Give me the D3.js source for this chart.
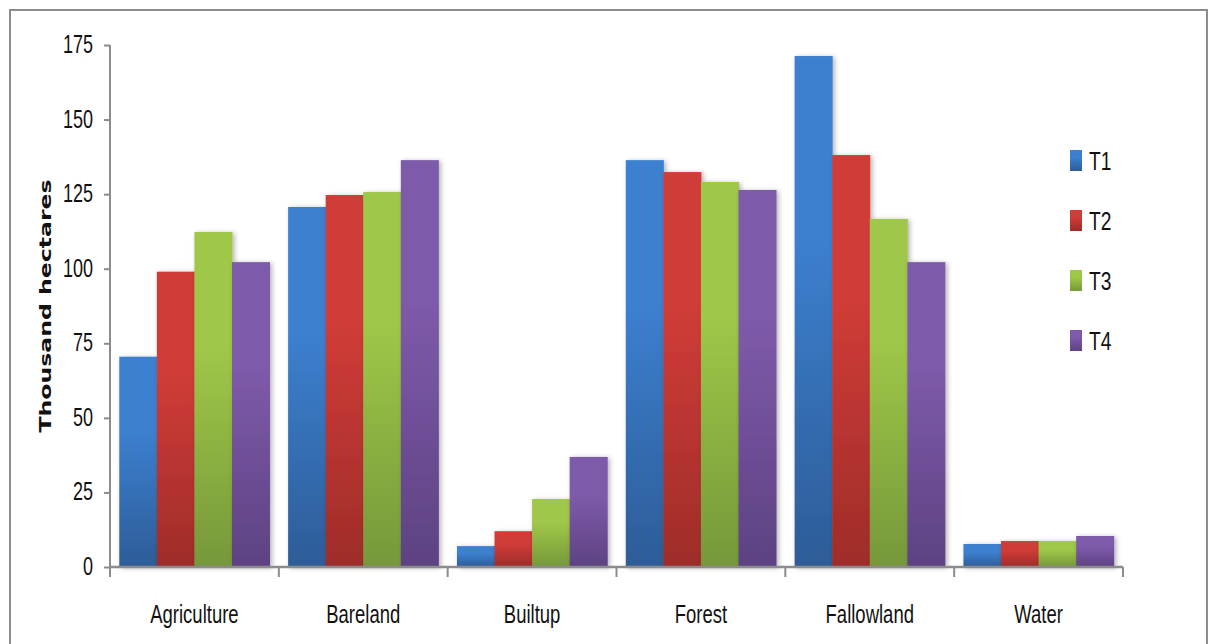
<!DOCTYPE html>
<html><head><meta charset="utf-8">
<script src="https://cdn.jsdelivr.net/npm/d3@7"></script>
<style>body{margin:0;background:#fff}svg{display:block}</style>
</head><body>
<svg id="c" width="1214" height="644"></svg>
<script>
const categories = ["Agriculture","Bareland","Builtup","Forest","Fallowland","Water"];
const series = ["T1","T2","T3","T4"];
const T1 = [70.5, 120.7, 7.0, 136.4, 171.3, 7.7];
const T2 = [99.0, 124.7, 12.0, 132.4, 138.1, 8.7];
const T3 = [112.3, 125.7, 22.8, 129.1, 116.7, 8.7];
const T4 = [102.2, 136.4, 36.9, 126.4, 102.2, 10.4];
const yTicks = [0,25,50,75,100,125,150,175];
const yLabel = "Thousand hectares";
const values = [T1,T2,T3,T4];
const colorsTop = ["#3c80d0","#d03c37","#9fc748","#7e5aaa"];
const colorsBot = ["#2d5c97","#9e2c29","#76983a","#5d4282"];

const svg = d3.select("#c");
const defs = svg.append("defs");
series.forEach((s,i)=>{
  const g = defs.append("linearGradient").attr("id","g"+i).attr("x1",0).attr("y1",0).attr("x2",0).attr("y2",1);
  g.append("stop").attr("offset","0%").attr("stop-color",colorsTop[i]);
  g.append("stop").attr("offset","35%").attr("stop-color",colorsTop[i]);
  g.append("stop").attr("offset","100%").attr("stop-color",colorsBot[i]);
});
const f = defs.append("filter").attr("id","sh").attr("x","-20%").attr("y","-20%").attr("width","150%").attr("height","150%");
f.append("feDropShadow").attr("dx",2).attr("dy",1).attr("stdDeviation",2.5).attr("flood-color","#000").attr("flood-opacity",0.3);

// frame
svg.append("rect").attr("x",10).attr("y",10).attr("width",1197).attr("height",650)
  .attr("fill","none").attr("stroke","#8c8c8c").attr("stroke-width",2);

const x0 = d3.scaleBand().domain(categories).range([110,1123]).paddingInner(0.11).paddingOuter(0.055);
const x1 = d3.scaleBand().domain(series).range([0,x0.bandwidth()]);
const y = d3.scaleLinear().domain([0,175]).range([567,45]);

// bars
const groups = svg.append("g").selectAll("g").data(categories).join("g")
  .attr("transform",d=>`translate(${x0(d)},0)`);
groups.selectAll("rect").data((d,ci)=>series.map((s,si)=>({s,si,v:values[si][ci]})))
  .join("rect")
  .attr("x",d=>x1(d.s)).attr("width",x1.bandwidth()+0.5)
  .attr("y",d=>y(d.v)).attr("height",d=>y(0)-y(d.v))
  .attr("fill",d=>`url(#g${d.si})`).attr("filter","url(#sh)");

const axisColor = "#8c8c8c";
// y axis
const yAxis = svg.append("g").attr("transform","translate(110,0)")
  .call(d3.axisLeft(y).tickValues(yTicks).tickSize(6).tickSizeOuter(0).tickFormat(""));
yAxis.select(".domain").attr("stroke",axisColor).attr("stroke-width",2).attr("d","M0,45V577");
yAxis.selectAll(".tick line").attr("stroke",axisColor).attr("stroke-width",2);
svg.append("g").selectAll("text").data(yTicks).join("text")
  .attr("transform",d=>`translate(93,${y(d)+8}) scale(0.72,1)`)
  .attr("text-anchor","end").attr("font-family","Liberation Sans, Arial, sans-serif")
  .attr("font-size",25).attr("fill","#111").text(d=>d);

// x axis
const bounds = categories.map(c=>x0(c)-x0.step()*x0.paddingInner()/2).concat([1123]);
const xAxis = svg.append("g");
xAxis.append("line").attr("x1",110).attr("x2",1123).attr("y1",y(0)).attr("y2",y(0))
  .attr("stroke",axisColor).attr("stroke-width",2.5);
xAxis.selectAll("line.t").data(bounds).join("line").attr("class","t")
  .attr("x1",d=>d).attr("x2",d=>d).attr("y1",y(0)).attr("y2",y(0)+10)
  .attr("stroke",axisColor).attr("stroke-width",2);
svg.append("g").selectAll("text").data(categories).join("text")
  .attr("transform",d=>`translate(${x0(d)+x0.bandwidth()/2},623) scale(0.74,1)`)
  .attr("text-anchor","middle").attr("font-family","Liberation Sans, Arial, sans-serif")
  .attr("font-size",25).attr("fill","#111").text(d=>d);

// y label
svg.append("text").attr("transform","translate(51,306) rotate(-90)")
  .attr("text-anchor","middle").attr("font-family","DejaVu Sans, Verdana, sans-serif")
  .attr("font-weight","bold").attr("font-size",15).attr("fill","#111")
  .attr("textLength",253).attr("lengthAdjust","spacingAndGlyphs").text(yLabel);

// legend
const leg = svg.append("g").selectAll("g").data(series).join("g")
  .attr("transform",(d,i)=>`translate(1070,${150+i*60})`);
leg.append("rect").attr("width",12).attr("height",21).attr("fill",(d,i)=>`url(#g${i})`);
leg.append("text").attr("transform","translate(19,20) scale(0.74,1)")
  .attr("font-family","Liberation Sans, Arial, sans-serif").attr("font-size",26).attr("fill","#111").text(d=>d);
</script>
</body></html>
